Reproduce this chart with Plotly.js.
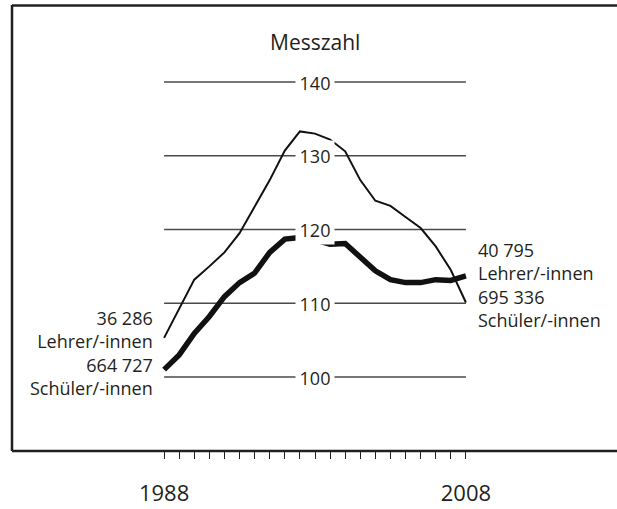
<!DOCTYPE html>
<html>
<head>
<meta charset="utf-8">
<script src="https://cdn.plot.ly/plotly-3.0.1.min.js"></script>
<style>
  html, body { margin: 0; padding: 0; background: #ffffff; }
  #chart { width: 617px; height: 509px; }
</style>
</head>
<body>
<div id="chart"></div>
<script>
// ---- data ----
const years = [1988, 1989, 1990, 1991, 1992, 1993, 1994, 1995, 1996, 1997, 1998,
               1999, 2000, 2001, 2002, 2003, 2004, 2005, 2006, 2007, 2008];
const lineThin  = [105.3, 109.3, 113.2, 115.0, 116.9, 119.5, 123.1, 126.7, 130.7, 133.3, 133.0,
                   132.2, 130.6, 126.7, 123.9, 123.2, 121.7, 120.2, 117.7, 114.5, 110.1];
const lineThick = [101.0, 103.0, 105.9, 108.2, 110.9, 112.8, 114.1, 116.9, 118.7, 118.9, 118.6,
                   118.0, 118.1, 116.3, 114.4, 113.2, 112.8, 112.8, 113.2, 113.1, 113.7];
const gridValues = [100, 110, 120, 130, 140];
const gridLabels = ['100', '110', '120', '130', '140'];
const yearLabels = ['1988', '', '', '', '', '', '', '', '', '', '', '', '', '', '', '', '', '', '', '', '2008'];
const titleText = 'Messzahl';
const leftLabel = '36 286<br>Lehrer/-innen<br>664 727<br>Schüler/-innen';
const rightLabel = '40 795<br>Lehrer/-innen<br>695 336<br>Schüler/-innen';

// ---- layout ----
const W = 617, H = 509;
const FONT = '"Open Sans", "Noto Sans", sans-serif';
const INK = '#231f20';
const first = years[0], last = years[years.length - 1];
const xRange = [first - 1, last + 1];
const mL = 149, mR = 136, mT = 5, mB = 58;
const plotW = W - mL - mR;
const px2paperX = px => (px - mL) / plotW;
const yRange = [89.966, 150.441];
const midYear = (first + last) / 2;

const traces = [
  { x: years, y: lineThin, type: 'scatter', mode: 'lines',
    line: { color: '#111111', width: 2 }, hoverinfo: 'skip', showlegend: false },
  { x: years, y: lineThick, type: 'scatter', mode: 'lines',
    line: { color: '#111111', width: 5.5 }, hoverinfo: 'skip', showlegend: false }
];

const shapes = gridValues.map(v => ({
  type: 'line', xref: 'x', yref: 'y', x0: first, x1: last, y0: v, y1: v,
  line: { color: '#4a4a4a', width: 1.3 }, layer: 'below'
}));
// frame (left, top, bottom; open on the right)
const frameL = px2paperX(12), frameR = px2paperX(W + 5);
shapes.push({ type: 'line', xref: 'paper', yref: 'paper', x0: frameL, x1: frameL, y0: 0, y1: 1,
  line: { color: INK, width: 2.5 } });
shapes.push({ type: 'line', xref: 'paper', yref: 'paper', x0: frameL, x1: frameR, y0: 0.999, y1: 0.999,
  line: { color: INK, width: 2.5 } });
shapes.push({ type: 'line', xref: 'paper', yref: 'paper', x0: frameL, x1: frameR, y0: 0, y1: 0,
  line: { color: INK, width: 2.5 } });

const annotations = gridValues.map((v, i) => ({
  x: midYear, y: v, xref: 'x', yref: 'y', text: gridLabels[i], showarrow: false,
  font: { family: FONT, size: 18, color: INK }, bgcolor: '#ffffff',
  width: 38, height: 29, borderpad: 0, xanchor: 'center', yanchor: 'middle'
}));
annotations.push({
  x: midYear, y: 145.45, xref: 'x', yref: 'y', text: titleText, showarrow: false,
  font: { family: FONT, size: 21, color: INK }, xanchor: 'center', yanchor: 'middle'
});
annotations.push({
  x: first - 0.6, y: 103.2, xref: 'x', yref: 'y', text: leftLabel, showarrow: false, align: 'right',
  font: { family: FONT, size: 18, color: INK }, xanchor: 'right', yanchor: 'middle'
});
annotations.push({
  x: last + 0.7, y: 112.5, xref: 'x', yref: 'y', text: rightLabel, showarrow: false, align: 'left',
  font: { family: FONT, size: 18, color: INK }, xanchor: 'left', yanchor: 'middle'
});

const layout = {
  width: W, height: H,
  margin: { l: mL, r: mR, t: mT, b: mB, pad: 0 },
  paper_bgcolor: '#ffffff', plot_bgcolor: '#ffffff',
  showlegend: false,
  font: { family: FONT, color: INK },
  xaxis: {
    range: xRange, showgrid: false, zeroline: false, showline: false,
    tickmode: 'array', tickvals: years, ticktext: yearLabels,
    ticks: 'outside', ticklen: 7, tickwidth: 1, tickcolor: INK,
    ticklabelstandoff: 16,
    tickfont: { family: FONT, size: 22, color: INK }, fixedrange: true
  },
  yaxis: {
    range: yRange, showgrid: false, zeroline: false, showline: false,
    showticklabels: false, ticks: '', fixedrange: true
  },
  shapes: shapes,
  annotations: annotations
};

Plotly.newPlot('chart', traces, layout, { staticPlot: true, displayModeBar: false });
</script>
</body>
</html>
